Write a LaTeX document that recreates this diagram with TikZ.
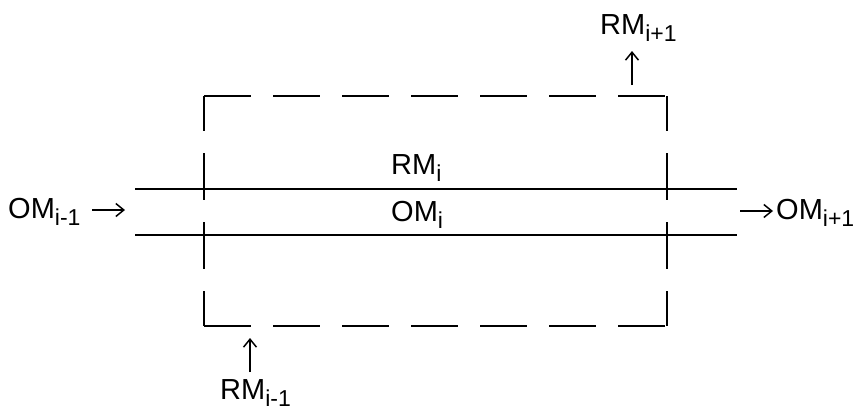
\documentclass[tikz,border=0pt]{standalone}
\usepackage{fontspec}
\setmainfont{Liberation Sans}
\usetikzlibrary{arrows.meta}
\newcommand{\lowidx}[1]{\raisebox{-7pt}{\fontsize{23}{23}\selectfont #1}}

\begin{document}
\begin{tikzpicture}[x=1pt,y=-1pt,
  lbl/.style={inner sep=0pt, anchor=base west, font=\fontsize{29}{32}\selectfont},
  flow/.style={line width=2.6pt},
  bound/.style={line width=1.7pt, dash pattern=on 47pt off 22pt},
  boundv/.style={bound, dash phase=12pt},
  arr/.style={line width=1.5pt, -{Straight Barb[length=8pt,width=13pt]}}]
  \useasboundingbox (0,0) rectangle (857,410);

  % Frontera (rectángulo discontinuo)
  \coordinate (tl) at (204,96);
  \coordinate (tr) at (667,96);
  \coordinate (bl) at (204,326);
  \coordinate (br) at (667,326);
  \draw[bound] (tl) -- (tr);
  \draw[bound] (bl) -- (br);
  \draw[boundv] (tl) -- (bl);
  \draw[boundv] (tr) -- (br);

  % Líneas de flujo
  \coordinate (uppL) at (135,189);
  \coordinate (uppR) at (737,189);
  \coordinate (lowL) at (135,235);
  \coordinate (lowR) at (737,235);
  \draw[flow] (uppL) -- (uppR);
  \draw[flow] (lowL) -- (lowR);

  % Etiquetas
  \node[lbl] (rmcur)  at (391,174) {RM\lowidx{i}};
  \node[lbl] (omcur)  at (391,221) {OM\lowidx{i}};
  \node[lbl] (omprev) at (8,218)   {OM\lowidx{i-1}};
  \node[lbl] (omnext) at (776,219) {OM\lowidx{i+1}};
  \node[lbl] (rmnext) at (600,34)  {RM\lowidx{i+1}};
  \node[lbl] (rmprev) at (220,399) {RM\lowidx{i-1}};

  % Flechas
  \coordinate (inTail)  at (92,210);
  \coordinate (inHead)  at (125,210);
  \coordinate (outTail) at (740,211);
  \coordinate (outHead) at (773,211);
  \coordinate (upTail)  at (632,85);
  \coordinate (upHead)  at (632,51);
  \coordinate (dnTail)  at (250,372);
  \coordinate (dnHead)  at (250,338);
  \draw[arr] (inTail) -- (inHead);
  \draw[arr] (outTail) -- (outHead);
  \draw[arr] (upTail) -- (upHead);
  \draw[arr] (dnTail) -- (dnHead);
\end{tikzpicture}
\end{document}
